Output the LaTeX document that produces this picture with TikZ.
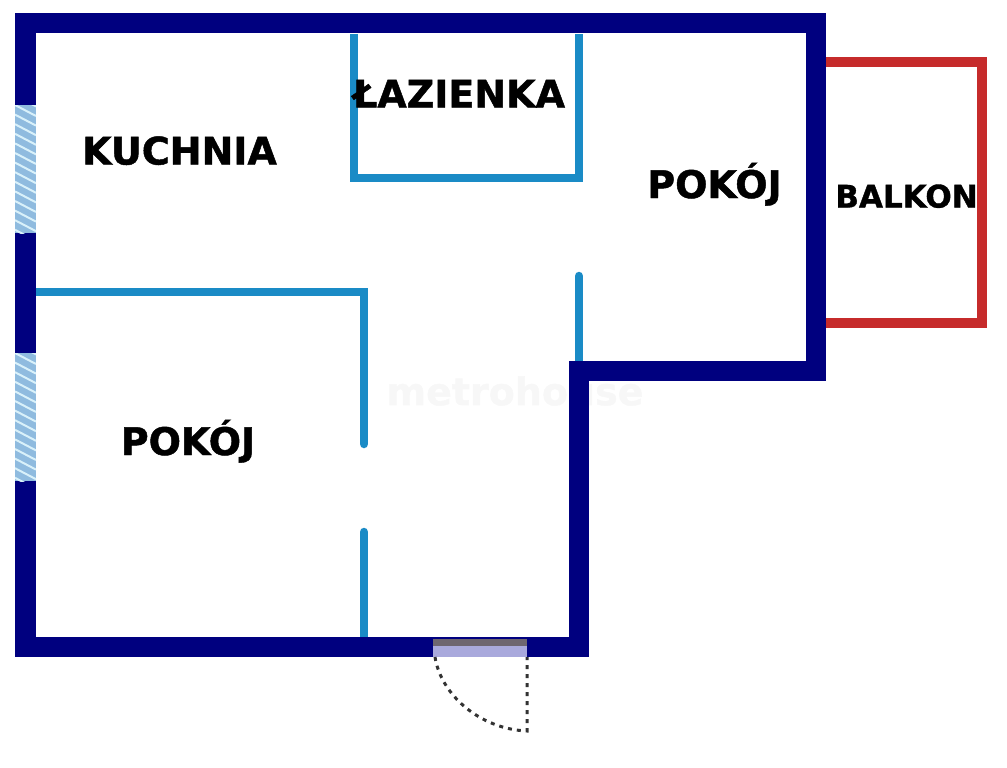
\documentclass[tikz,border=0pt]{standalone}
\usepackage{fontspec}
\setmainfont{DejaVu Sans}[BoldFeatures={FakeBold=1.2}]
\definecolor{wallnavy}{HTML}{00007F}
\definecolor{wallblue}{HTML}{1A8BC6}
\definecolor{balconyred}{HTML}{C62B2B}
\definecolor{glassblue}{HTML}{8FBBDF}
\definecolor{glasslight}{HTML}{D9F1FA}
\definecolor{doorlilac}{HTML}{A9A9DC}
\definecolor{doorgrey}{HTML}{6E6670}
\tikzset{
    outerwall/.style={draw=wallnavy,line width=20.5pt,line join=miter},
    innerwall/.style={draw=wallblue,line width=8.5pt},
    roomlabel/.style={font=\bfseries\fontsize{38}{38}\selectfont,text=black,inner sep=0pt},
    windowpane/.style={fill=glassblue,draw=none}
}
\begin{document}
\begin{tikzpicture}[x=1pt,y=-1pt]
    \useasboundingbox(0,0)rectangle(1007,768);

    \node[font=\bfseries\fontsize{38}{38}\selectfont,text=black!3,inner sep=0pt](watermark)at(515,391){metrohouse};

    \draw[draw=balconyred,line width=10pt,miter limit=10](822,62)--(982,62)--(982,323)--(822,323);

    \draw[innerwall](354,34)--(354,178)--(579,178)--(579,34);
    \draw[innerwall](36,292)--(364,292)--(364,443);
    \draw[innerwall,line cap=round](364,443)--(364,444);
    \draw[innerwall,line cap=round](364,532)--(364,540);
    \draw[innerwall](364,536)--(364,637);
    \draw[innerwall,line cap=round](579,276)--(579,290);
    \draw[innerwall](579,285)--(579,361);

    \draw[outerwall](25.25,23.25)--(816,23.25)--(816,371)--(579,371)--(579,647)--(25.25,647)--cycle;

    % windows
    \foreach \ytop in {105,353}{
        \begin{scope}
            \clip(15,\ytop)rectangle(36,\ytop+128);
            \fill[windowpane](15,\ytop)rectangle(36,\ytop+128);
            \foreach \k in {-1,...,13}{
                \draw[glasslight,line width=2pt](15,\ytop+\k*9.6)--(36,\ytop+\k*9.6+11);
            }
        \end{scope}
    }

    % door
    \fill[doorgrey](433,639)rectangle(527,646);
    \fill[doorlilac](433,646)rectangle(527,657);
    \coordinate(hinge)at(527,657);
    \coordinate(jamb)at(435,657);
    \coordinate(swing)at(527,731);
    \draw[line width=3pt,black!80,dash pattern=on 4pt off 5pt](jamb)..controls(441,695)and(480,729)..(swing)--(hinge);

    \node[roomlabel,anchor=base](kuchnia)at(179.5,164.5){KUCHNIA};
    \node[roomlabel,anchor=base](lazienka)at(459,107.5){ŁAZIENKA};
    \node[roomlabel,anchor=base](pokojright)at(714.5,198){POKÓJ};
    \node[roomlabel,anchor=base](pokojleft)at(188,455){POKÓJ};
    \node[roomlabel,anchor=base,font=\bfseries\fontsize{31}{31}\selectfont](balkon)at(906.5,207.5){BALKON};
\end{tikzpicture}
\end{document}
